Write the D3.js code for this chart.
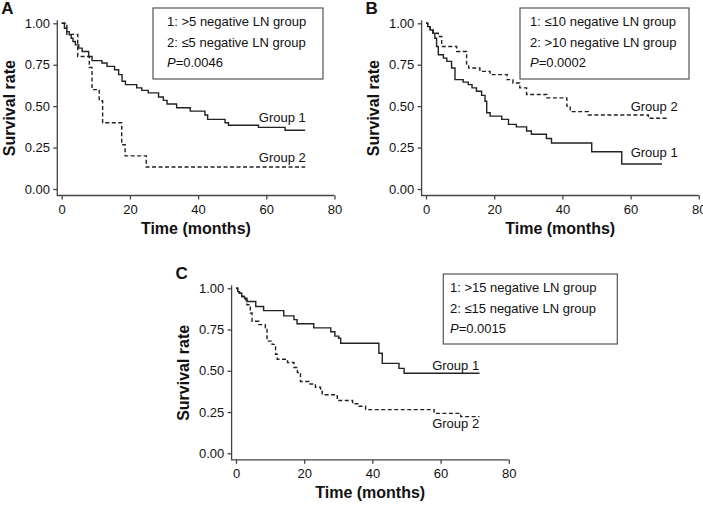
<!DOCTYPE html>
<html>
<head>
<meta charset="utf-8">
<script src="https://cdnjs.cloudflare.com/ajax/libs/d3/7.8.5/d3.min.js"></script>
<style>
body { margin: 0; background: #fff; }
svg text { font-family: "Liberation Sans", Arial, sans-serif; fill: #111; }
</style>
</head>
<body>
<div id="chart"></div>
<script>
// tick values shared by the three panels
const xTicks = [0, 20, 40, 60, 80];
const yTicks = [0, 0.25, 0.5, 0.75, 1];

// Kaplan-Meier steps: [month, survival]
const aGroup1 = [[0,1],[0.8,0.97],[1.5,0.95],[2.2,0.93],[2.8,0.91],[3.3,0.89],[4,0.87],[5,0.85],[6,0.83],[7.9,0.80],[8.9,0.775],[11.8,0.76],[13.3,0.74],[15.5,0.72],[16.7,0.69],[17.7,0.65],[18.7,0.63],[22,0.61],[23.5,0.595],[25.4,0.58],[28.4,0.555],[29.8,0.535],[30.9,0.513],[33.7,0.49],[37.7,0.47],[42,0.447],[42.8,0.42],[47.9,0.40],[48.9,0.385],[57.7,0.372],[65.5,0.355],[71.4,0.355]];
const aGroup2 = [[0,1],[1.5,0.933],[4.7,0.80],[8.1,0.733],[8.9,0.60],[11,0.533],[12,0.40],[17.6,0.267],[18.6,0.20],[24.8,0.133],[71.4,0.133]];

const bGroup1 = [[0,1],[0.5,0.98],[1.2,0.96],[2,0.94],[2.6,0.91],[3.1,0.86],[3.6,0.81],[5.1,0.79],[6.1,0.77],[7.5,0.73],[8.5,0.66],[10.9,0.645],[12.4,0.63],[13.5,0.61],[14.8,0.59],[16.3,0.565],[17.3,0.53],[17.8,0.46],[18.8,0.44],[22.2,0.42],[24.2,0.39],[26.5,0.375],[29.5,0.35],[30.9,0.33],[35.3,0.305],[36.8,0.278],[48.6,0.225],[57.4,0.151],[69.2,0.151]];
const bGroup2 = [[0,1],[0.5,0.98],[1.2,0.96],[2.1,0.94],[3.6,0.92],[4.6,0.86],[9,0.83],[11.9,0.75],[12.5,0.73],[15.8,0.71],[18.8,0.69],[23.8,0.66],[25.5,0.64],[27.5,0.61],[29.5,0.57],[35.4,0.55],[41.3,0.50],[42.3,0.467],[47.6,0.447],[65.2,0.427],[70.6,0.427]];

const cGroup1 = [[0,1],[0.5,0.98],[1,0.97],[1.7,0.95],[2.5,0.94],[3.2,0.92],[5.8,0.89],[8.1,0.865],[14,0.833],[17,0.81],[17.9,0.785],[22.8,0.76],[27.8,0.737],[29,0.71],[30.1,0.697],[30.7,0.667],[41.9,0.606],[42.9,0.545],[47.8,0.515],[49.3,0.485],[71.4,0.485]];
const cGroup2 = [[0,1],[0.5,0.98],[1,0.97],[1.7,0.95],[2.8,0.93],[3.2,0.90],[4.2,0.85],[4.7,0.80],[6.7,0.78],[8.6,0.76],[9.1,0.68],[10.6,0.66],[11.6,0.60],[12.1,0.57],[15.1,0.55],[17,0.52],[18,0.49],[18.9,0.435],[21.4,0.42],[23.3,0.40],[24.8,0.375],[25.3,0.355],[29.7,0.32],[34.2,0.30],[36.1,0.285],[38,0.265],[58.1,0.242],[65.9,0.222],[71.4,0.222]];

const legendA = ["1: >5 negative LN group", "2: \u22645 negative LN group"];
const legendB = ["1: \u226410 negative LN group", "2: >10 negative LN group"];
const legendC = ["1: >15 negative LN group", "2: \u226415 negative LN group"];
const pValues = ["0.0046", "0.0002", "0.0015"];
const groupNames = ["Group 1", "Group 2"];

// layout of each panel (pixels), label anchors in data units
const panels = [
  { letter: "A", g1: aGroup1, g2: aGroup2, legend: legendA, p: pValues[0],
    x0: 61.7, yTop: 23.3, h: 165.7, box: {x: 153, y: 8, w: 170, h: 71}, textX: 167,
    lab1: [71.6, 0.404], lab2: [71.6, 0.163] },
  { letter: "B", g1: bGroup1, g2: bGroup2, legend: legendB, p: pValues[1],
    x0: 426, yTop: 23.3, h: 165.7, box: {x: 520, y: 8, w: 169, h: 71}, textX: 530,
    lab1: [73.8, 0.191], lab2: [73.8, 0.471] },
  { letter: "C", g1: cGroup1, g2: cGroup2, legend: legendC, p: pValues[2],
    x0: 236, yTop: 288.3, h: 165, box: {x: 443.3, y: 274, w: 174, h: 70}, textX: 450,
    lab1: [71.3, 0.505], lab2: [71.3, 0.152] }
];

const pxPerMonth = 3.41;

const svg = d3.select("#chart").append("svg")
  .attr("width", 703)
  .attr("height", 505);

function drawPanel(p) {
  const g = svg.append("g");

  const x = d3.scaleLinear().domain([0, 80]).range([p.x0, p.x0 + 80 * pxPerMonth]);
  const y = d3.scaleLinear().domain([0, 1]).range([p.yTop + p.h, p.yTop]);

  const axisX = x(0) - 4.4;
  const axisY = y(0) + 6.5;

  // y axis
  const yAxis = g.append("g")
    .attr("transform", `translate(${axisX},0)`)
    .call(d3.axisLeft(y).tickValues(yTicks).tickFormat(d3.format(".2f"))
      .tickSize(4).tickSizeOuter(0).tickPadding(3.3));
  // x axis
  const xAxis = g.append("g")
    .attr("transform", `translate(0,${axisY})`)
    .call(d3.axisBottom(x).tickValues(xTicks).tickSize(4).tickSizeOuter(0).tickPadding(5.3));

  [yAxis, xAxis].forEach(a => {
    a.select(".domain").remove();
    a.selectAll(".tick line").attr("stroke", "#444").attr("stroke-width", 1.3);
    a.selectAll(".tick text").style("font-size", "13px").attr("fill", "#111");
  });

  g.append("path")
    .attr("d", `M${axisX},${y(1) - 3}V${axisY}H${x(80)}`)
    .attr("fill", "none")
    .attr("stroke", "#444")
    .attr("stroke-width", 1.3);

  // axis titles
  g.append("text")
    .attr("transform", `translate(${axisX - 42.5},${(y(0) + y(1)) / 2 + 2}) rotate(-90)`)
    .attr("text-anchor", "middle")
    .style("font-size", "16px")
    .style("font-weight", "bold")
    .text("Survival rate");

  g.append("text")
    .attr("x", (axisX + x(80)) / 2)
    .attr("y", axisY + 38)
    .attr("text-anchor", "middle")
    .style("font-size", "16px")
    .style("font-weight", "bold")
    .text("Time (months)");

  // panel letter
  g.append("text")
    .attr("x", axisX - 56)
    .attr("y", y(1) - 9)
    .style("font-size", "17px")
    .style("font-weight", "bold")
    .text(p.letter);

  // survival curves
  const line = d3.line()
    .x(d => x(d[0]))
    .y(d => y(d[1]))
    .curve(d3.curveStepAfter);

  g.append("path")
    .datum(p.g1)
    .attr("d", line)
    .attr("fill", "none")
    .attr("stroke", "#222")
    .attr("stroke-width", 1.4);

  g.append("path")
    .datum(p.g2)
    .attr("d", line)
    .attr("fill", "none")
    .attr("stroke", "#222")
    .attr("stroke-width", 1.4)
    .attr("stroke-dasharray", "4,2.5");

  // group labels
  [p.lab1, p.lab2].forEach((l, i) => {
    g.append("text")
      .attr("x", x(l[0]))
      .attr("y", y(l[1]))
      .attr("text-anchor", "end")
      .style("font-size", "13px")
      .text(groupNames[i]);
  });

  // legend box
  g.append("rect")
    .attr("x", p.box.x)
    .attr("y", p.box.y)
    .attr("width", p.box.w)
    .attr("height", p.box.h)
    .attr("fill", "#fff")
    .attr("stroke", "#555")
    .attr("stroke-width", 1.2);

  const rows = [18, 38.5, 59];
  p.legend.forEach((t, i) => {
    g.append("text")
      .attr("x", p.textX)
      .attr("y", p.box.y + rows[i])
      .style("font-size", "13px")
      .text(t);
  });
  const pt = g.append("text")
    .attr("x", p.textX)
    .attr("y", p.box.y + rows[2])
    .style("font-size", "13px");
  pt.append("tspan").style("font-style", "italic").text("P");
  pt.append("tspan").text("=" + p.p);
}

panels.forEach(drawPanel);
</script>
</body>
</html>
